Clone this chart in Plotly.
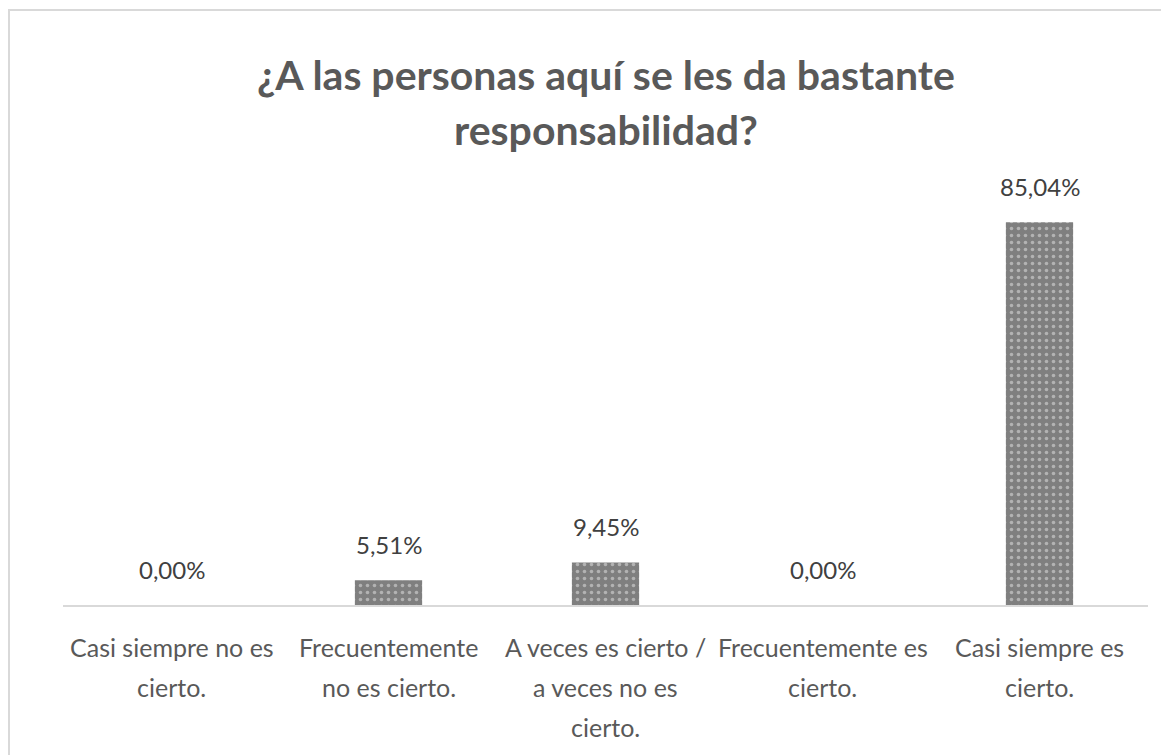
import plotly.graph_objects as go

categories = ["Casi siempre no es cierto.", "Frecuentemente no es cierto.",
              "A veces es cierto / a veces no es cierto.", "Frecuentemente es cierto.",
              "Casi siempre es cierto."]
category_lines = [["Casi siempre no es", "cierto."],
                  ["Frecuentemente", "no es cierto."],
                  ["A veces es cierto /", "a veces no es", "cierto."],
                  ["Frecuentemente es", "cierto."],
                  ["Casi siempre es", "cierto."]]
values = [0.00, 5.51, 9.45, 0.00, 85.04]
title_lines = ["¿A las personas aquí se les da bastante", "responsabilidad?"]

FONT = "Lato, Open Sans, sans-serif"

# page body has an 8px margin: compensate
OFF = 8
W, H = 1169 - OFF, 755 - OFF
L, T = 63 - OFF, 155 - OFF
R = W - (1148 - OFF)
B = H - (605 - OFF)
pw, ph = W - L - R, H - T - B

fig = go.Figure(go.Bar(
    x=categories, y=values,
    marker=dict(color="#7f7f7f", line=dict(width=0),
                pattern=dict(shape=".", fgcolor="#e8e8e8", bgcolor="#7f7f7f", size=7, solidity=0.2)),
    hoverinfo="skip",
))

annotations = []
# value labels
for c, v in zip(categories, values):
    annotations.append(dict(x=c, y=v, xref="x", yref="y", text=f"{v:.2f}%".replace(".", ","),
                            showarrow=False, yanchor="bottom", yshift=19,
                            font=dict(size=24, color="#404040", family=FONT)))
# category labels (one annotation per line)
for c, lines in zip(categories, category_lines):
    for i, line in enumerate(lines):
        annotations.append(dict(x=c, xref="x", yref="paper", y=-(42 + 40 * i) / ph, text=line,
                                showarrow=False, yanchor="middle",
                                font=dict(size=25, color="#595959", family=FONT)))
# title lines
for i, line in enumerate(title_lines):
    annotations.append(dict(x=0.5, xref="paper", yref="paper", y=(605 - (75 + 55 * i)) / ph,
                            text=f"<b>{line}</b>", showarrow=False, yanchor="middle",
                            font=dict(size=41, color="#595959", family=FONT)))

fig.update_layout(
    width=W, height=H,
    margin=dict(l=L, r=R, t=T, b=B, autoexpand=False),
    paper_bgcolor="white", plot_bgcolor="white",
    bargap=0.69, showlegend=False,
    xaxis=dict(showgrid=False, showline=True, linecolor="#d9d9d9", linewidth=2,
               ticks="", showticklabels=False),
    yaxis=dict(range=[0, 100], visible=False),
    annotations=annotations,
    shapes=[dict(type="rect", xref="paper", yref="paper",
                 x0=(1 - L) / pw, x1=1.1, y0=-0.5, y1=(605 - 10) / ph,
                 line=dict(color="#d9d9d9", width=2), fillcolor="rgba(0,0,0,0)", layer="below")],
)

fig.write_html("out.html")
